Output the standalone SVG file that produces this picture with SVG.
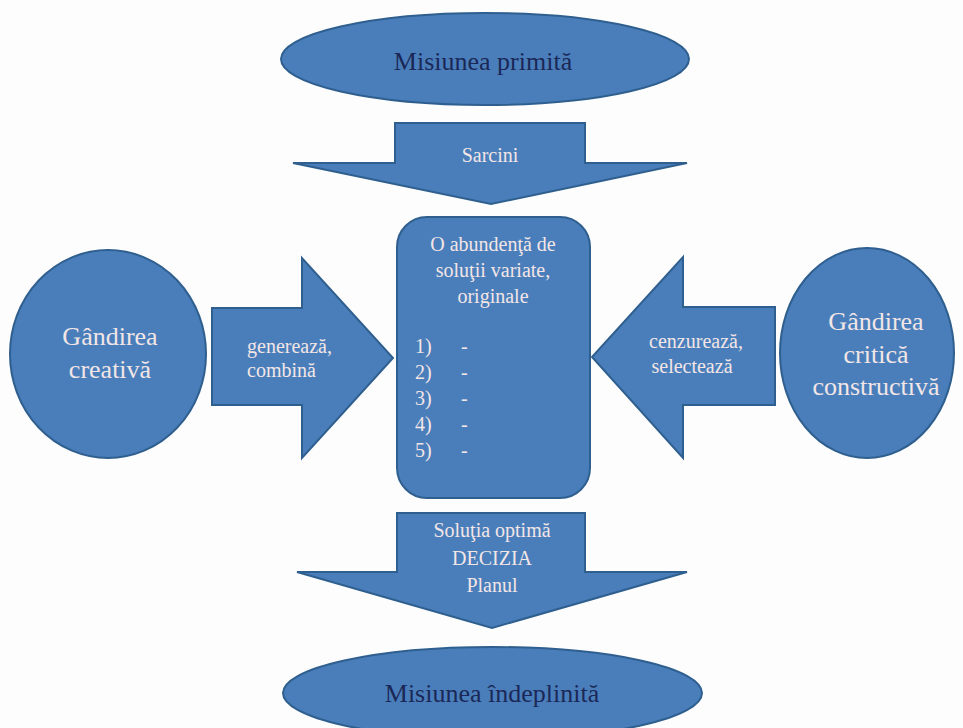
<svg xmlns="http://www.w3.org/2000/svg" width="963" height="728" viewBox="0 0 963 728">
  <defs>
    <style>
      .shape { fill: #4a7ebb; stroke: #2f5f8e; stroke-width: 2; }
      .lt { font-family: "Liberation Serif", "Times New Roman", serif; fill: #f3e6e6; text-anchor: middle; }
      .dk { font-family: "Liberation Serif", "Times New Roman", serif; fill: #1b2857; text-anchor: middle; font-size: 26px; }
      .list { font-family: "Liberation Serif", "Times New Roman", serif; fill: #f3e6e6; font-size: 20px; }
    </style>
  </defs>
  <rect x="0" y="0" width="963" height="728" fill="#fdfdfe"/>

  <g id="connectors">
    <g id="arrow-sarcini">
      <polygon class="shape" points="395,123 585,123 585,163 687,163 491,204 293,163 395,163"/>
      <text class="lt" x="490" y="162" font-size="20">Sarcini</text>
    </g>
    <g id="arrow-genereaza">
      <polygon class="shape" points="212,308 302,308 302,258 393,358 302,458 302,405 212,405"/>
      <text class="list" x="247" y="353">generează,</text>
      <text class="list" x="247" y="377">combină</text>
    </g>
    <g id="arrow-cenzureaza">
      <polygon class="shape" points="775,307 683,307 683,257 592,357 683,458 683,405 775,405"/>
      <text class="lt" x="696" y="348" font-size="20">cenzurează,</text>
      <text class="lt" x="692" y="373" font-size="20">selectează</text>
    </g>
    <g id="arrow-decizia">
      <polygon class="shape" points="397,513 585,513 585,572 687,572 492,628 297,572 397,572"/>
      <text class="lt" x="492" y="537" font-size="20">Soluţia optimă</text>
      <text class="lt" x="492" y="565" font-size="20">DECIZIA</text>
      <text class="lt" x="492" y="592" font-size="20">Planul</text>
    </g>
  </g>

  <g id="misiunea-primita">
    <ellipse class="shape" cx="485" cy="59" rx="204" ry="46"/>
    <text class="dk" x="483" y="70">Misiunea primită</text>
  </g>

  <g id="solutii">
    <rect class="shape" x="397" y="217" width="193" height="281" rx="30" ry="30"/>
    <text class="lt" x="493" y="251" font-size="20">O abundenţă  de</text>
    <text class="lt" x="493" y="277" font-size="20">soluţii variate,</text>
    <text class="lt" x="493" y="303" font-size="20">originale</text>
    <text class="list" x="415" y="353">1)</text><text class="list" x="461" y="353">-</text>
    <text class="list" x="415" y="379">2)</text><text class="list" x="461" y="379">-</text>
    <text class="list" x="415" y="405">3)</text><text class="list" x="461" y="405">-</text>
    <text class="list" x="415" y="431">4)</text><text class="list" x="461" y="431">-</text>
    <text class="list" x="415" y="457">5)</text><text class="list" x="461" y="457">-</text>
  </g>

  <g id="gandirea-creativa">
    <ellipse class="shape" cx="108" cy="354" rx="98" ry="104"/>
    <text class="lt" x="110" y="345" font-size="26">Gândirea</text>
    <text class="lt" x="110" y="378" font-size="26">creativă</text>
  </g>

  <g id="gandirea-critica">
    <ellipse class="shape" cx="867" cy="353" rx="87" ry="105"/>
    <text class="lt" x="876" y="330" font-size="26">Gândirea</text>
    <text class="lt" x="876" y="363" font-size="26">critică</text>
    <text class="lt" x="876" y="395" font-size="26">constructivă</text>
  </g>

  <g id="misiunea-indeplinita">
    <ellipse class="shape" cx="492.5" cy="693" rx="209.5" ry="46"/>
    <text class="dk" x="492" y="702">Misiunea îndeplinită</text>
  </g>
</svg>
